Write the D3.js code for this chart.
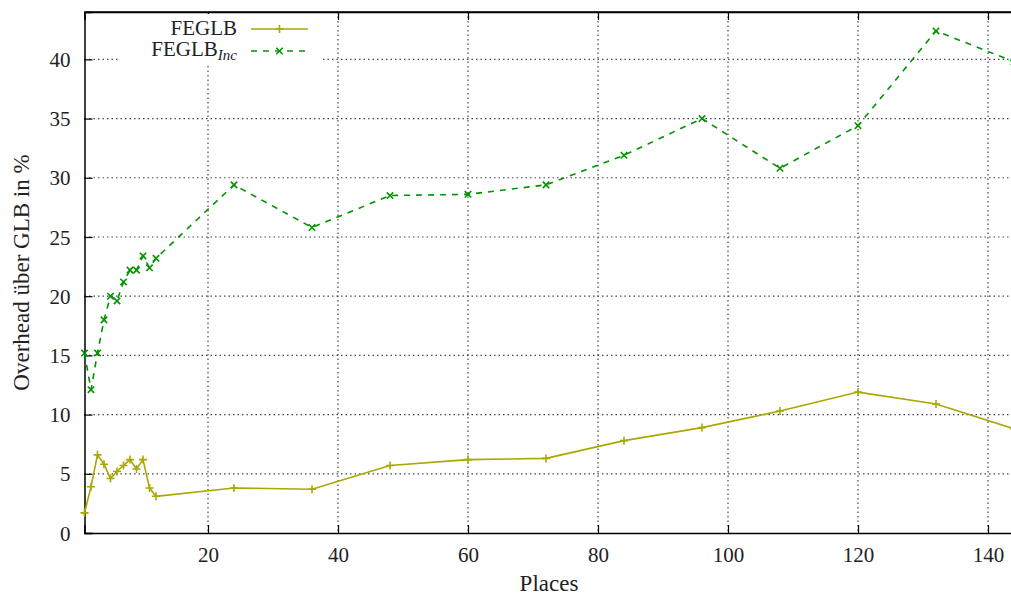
<!DOCTYPE html>
<html>
<head>
<meta charset="utf-8">
<script src="https://cdn.jsdelivr.net/npm/d3@7"></script>
<style>
    body { margin: 0; background: #fff; }
</style>
</head>
<body>
<div id="chart"></div>
<script>
// Places (x values)
const places = [1, 2, 3, 4, 5, 6, 7, 8, 9, 10, 11, 12, 24, 36, 48, 60, 72, 84, 96, 108, 120, 132, 144];

// Overhead over GLB in %
const feglb = [1.7, 3.9, 6.6, 5.8, 4.6, 5.2, 5.7, 6.2, 5.4, 6.2, 3.8, 3.1,
    3.8, 3.7, 5.7, 6.2, 6.3, 7.8, 8.9, 10.3, 11.9, 10.9, 8.8];
const feglbInc = [15.2, 12.1, 15.2, 18.0, 20.0, 19.6, 21.2, 22.2, 22.2, 23.4, 22.4, 23.2,
    29.4, 25.8, 28.5, 28.6, 29.4, 31.9, 35.0, 30.8, 34.4, 42.4, 39.8];

const xTicks = [20, 40, 60, 80, 100, 120, 140];
const yTicks = [0, 5, 10, 15, 20, 25, 30, 35, 40];

const WIDTH = 1011;
const HEIGHT = 597;
const LEFT = 84.5;
const RIGHT = 1014;
const TOP = 12;
const BOTTOM = 533;

const FONT = "'Liberation Serif', 'Tinos', 'Times New Roman'";
const YELLOW = "#a8a800";
const GREEN = "#009400";

const svg = d3.select("#chart")
    .append("svg")
    .attr("width", WIDTH)
    .attr("height", HEIGHT);

let xScale = d3.scaleLinear().domain([1, 144]).range([LEFT, RIGHT]);
let yScale = d3.scaleLinear().domain([0, 44]).range([BOTTOM, TOP]);

// Grid lines
svg.append("g")
    .selectAll("line")
    .data(xTicks)
    .enter().append("line")
    .attr("x1", d => xScale(d)).attr("x2", d => xScale(d))
    .attr("y1", TOP).attr("y2", BOTTOM)
    .attr("stroke", "#444")
    .attr("stroke-width", 1.2)
    .attr("stroke-dasharray", "1.5,3");

svg.append("g")
    .selectAll("line")
    .data(yTicks.filter(d => d > 0))
    .enter().append("line")
    .attr("x1", LEFT).attr("x2", RIGHT)
    .attr("y1", d => yScale(d)).attr("y2", d => yScale(d))
    .attr("stroke", "#444")
    .attr("stroke-width", 1.2)
    .attr("stroke-dasharray", "1.5,3");

// Axes
const xAxis = svg.append("g")
    .attr("transform", `translate(0,${BOTTOM})`)
    .call(d3.axisBottom(xScale).tickValues(xTicks).tickSize(-8).tickPadding(14));
const yAxis = svg.append("g")
    .attr("transform", `translate(${LEFT},0)`)
    .call(d3.axisLeft(yScale).tickValues(yTicks).tickSize(-8).tickPadding(14));
const xTop = svg.append("g")
    .attr("transform", `translate(0,${TOP})`)
    .call(d3.axisTop(xScale).tickValues(xTicks).tickSize(-8).tickFormat(""));

[xAxis, yAxis, xTop].forEach(g => {
    g.attr("font-family", null);
    g.select(".domain").attr("stroke", "#000").attr("stroke-width", 1.5);
    g.selectAll(".tick line").attr("stroke", "#000").attr("stroke-width", 1.2);
    g.selectAll("text")
        .style("font-family", FONT)
        .style("font-size", "21px")
        .attr("fill", "#222");
});
xAxis.selectAll("text").attr("dy", "0.72em");
yAxis.selectAll("text").attr("dy", "0.34em");

// Top border line
svg.append("line")
    .attr("x1", LEFT).attr("x2", RIGHT)
    .attr("y1", TOP).attr("y2", TOP)
    .attr("stroke", "#000").attr("stroke-width", 1.5);

// Axis labels
svg.append("text")
    .attr("x", 549)
    .attr("y", 591)
    .attr("text-anchor", "middle")
    .style("font-family", FONT)
    .style("font-size", "23px")
    .attr("fill", "#222")
    .text("Places");

svg.append("text")
    .attr("transform", `translate(29,${(TOP + BOTTOM) / 2}) rotate(-90)`)
    .attr("text-anchor", "middle")
    .style("font-family", FONT)
    .style("font-size", "23px")
    .attr("fill", "#222")
    .text("Overhead über GLB in %");

// Data lines
const rows1 = places.map((p, i) => ({ x: p, y: feglb[i] }));
const rows2 = places.map((p, i) => ({ x: p, y: feglbInc[i] }));

const line = d3.line().x(d => xScale(d.x)).y(d => yScale(d.y));

svg.append("path")
    .datum(rows1)
    .attr("d", line)
    .attr("fill", "none")
    .attr("stroke", YELLOW)
    .attr("stroke-width", 1.6);

svg.append("path")
    .datum(rows2)
    .attr("d", line)
    .attr("fill", "none")
    .attr("stroke", GREEN)
    .attr("stroke-width", 1.6)
    .attr("stroke-dasharray", "6,6");

const plusPath = s => `M${-s},0H${s}M0,${-s}V${s}`;
const crossPath = s => `M${-s},${-s}L${s},${s}M${-s},${s}L${s},${-s}`;

svg.append("g")
    .selectAll("path")
    .data(rows1)
    .enter().append("path")
    .attr("transform", d => `translate(${xScale(d.x)},${yScale(d.y)})`)
    .attr("d", plusPath(4))
    .attr("stroke", YELLOW)
    .attr("stroke-width", 1.6);

svg.append("g")
    .selectAll("path")
    .data(rows2)
    .enter().append("path")
    .attr("transform", d => `translate(${xScale(d.x)},${yScale(d.y)})`)
    .attr("d", crossPath(3.2))
    .attr("stroke", GREEN)
    .attr("stroke-width", 1.6);

// Legend
const legend = svg.append("g");
legend.append("rect")
    .attr("x", 120).attr("y", 14).attr("width", 200).attr("height", 50)
    .attr("fill", "#fff");

legend.append("text")
    .attr("x", 237).attr("y", 35)
    .attr("text-anchor", "end")
    .style("font-family", FONT)
    .style("font-size", "21px")
    .attr("fill", "#222")
    .text("FEGLB");
const t2 = legend.append("text")
    .attr("x", 237).attr("y", 56)
    .attr("text-anchor", "end")
    .style("font-family", FONT)
    .style("font-size", "21px")
    .attr("fill", "#222");
t2.append("tspan").text("FEGLB");
t2.append("tspan").attr("dy", 4).style("font-size", "15px").style("font-style", "italic").text("Inc");

legend.append("line")
    .attr("x1", 251).attr("x2", 308).attr("y1", 29).attr("y2", 29)
    .attr("stroke", YELLOW).attr("stroke-width", 1.6);
legend.append("path")
    .attr("transform", "translate(279.5,29)")
    .attr("d", plusPath(4))
    .attr("stroke", YELLOW).attr("stroke-width", 1.6);

legend.append("line")
    .attr("x1", 251).attr("x2", 308).attr("y1", 51).attr("y2", 51)
    .attr("stroke", GREEN).attr("stroke-width", 1.6)
    .attr("stroke-dasharray", "6,6");
legend.append("path")
    .attr("transform", "translate(279.5,51)")
    .attr("d", crossPath(3.2))
    .attr("stroke", GREEN).attr("stroke-width", 1.6);
</script>
</body>
</html>
